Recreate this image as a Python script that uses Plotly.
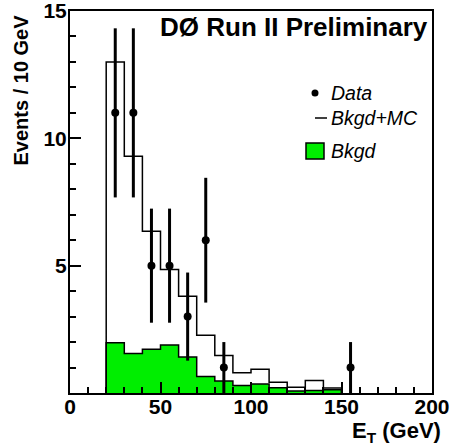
import plotly.graph_objects as go

# ---- data ----
bin_lo = [20, 30, 40, 50, 60, 70, 80, 90, 100, 110, 120, 130, 140]
bin_width = 10
bkgd_mc = [13.0, 9.3, 6.35, 4.85, 3.8, 2.27, 1.47, 0.8, 0.93, 0.42, 0.23, 0.49, 0.2]
bkgd = [1.97, 1.55, 1.72, 1.88, 1.41, 0.65, 0.47, 0.29, 0.35, 0.21, 0.08, 0.1, 0.13]

data_x = [25, 35, 45, 55, 65, 75, 85, 155]
data_y = [11, 11, 5, 5, 3, 6, 1, 1]
data_err = [3.32, 3.32, 2.24, 2.24, 1.73, 2.45, 1.0, 1.0]

x_ticks = [0, 50, 100, 150, 200]
y_ticks = [5, 10, 15]

FONT = "Liberation Sans"


def step(lo, vals, w):
    xs = [lo[0]] + list(lo) + [lo[-1] + w, lo[-1] + w]
    ys = [0] + list(vals) + [vals[-1], 0]
    return xs, ys


fig = go.Figure()

bx, by = step(bin_lo, bkgd, bin_width)
fig.add_trace(go.Scatter(x=bx, y=by, mode="lines", line=dict(shape="hv", color="black", width=1.5),
                         fill="tozeroy", fillcolor="#00ee00", showlegend=False, hoverinfo="skip"))

mx, my = step(bin_lo, bkgd_mc, bin_width)
fig.add_trace(go.Scatter(x=mx, y=my, mode="lines", line=dict(shape="hv", color="black", width=1.5),
                         showlegend=False, hoverinfo="skip"))

fig.add_trace(go.Scatter(x=data_x, y=data_y, mode="markers",
                         marker=dict(color="black", size=8),
                         error_y=dict(type="data", array=data_err, visible=True, color="black",
                                      thickness=3, width=0),
                         showlegend=False))

W, H = 453, 448
L, R, T, B = 70, 21, 11, 55
pw, ph = W - L - R, H - T - B


def px(x):
    return (x - L) / pw


def py(y):
    return (H - B - y) / ph


tickfont = dict(family=FONT, size=21, color="black", weight=700)

fig.update_layout(
    width=W, height=H,
    margin=dict(l=L, r=R, t=T, b=B, pad=0, autoexpand=False),
    paper_bgcolor="white", plot_bgcolor="white",
    showlegend=False,
    xaxis=dict(range=[0, 200], tickvals=x_ticks, ticktext=["<b>%d</b>" % v for v in x_ticks],
               showgrid=False, zeroline=False, automargin=False,
               showline=True, linecolor="black", linewidth=2, mirror=True,
               ticks="inside", ticklen=11, tickwidth=1.5, tickcolor="black",
               ticklabeloverflow="allow", ticklabelstandoff=-6,
               minor=dict(tickmode="linear", tick0=0, dtick=10, ticks="inside", ticklen=6,
                          tickwidth=1.5, tickcolor="black", showgrid=False),
               tickfont=tickfont),
    yaxis=dict(range=[0, 15], tickvals=y_ticks, ticktext=["<b>%d</b>" % v for v in y_ticks],
               showgrid=False, zeroline=False, automargin=False,
               showline=True, linecolor="black", linewidth=2, mirror=True,
               ticks="inside", ticklen=11, tickwidth=1.5, tickcolor="black",
               ticklabeloverflow="allow", ticklabelstandoff=-3,
               minor=dict(tickmode="linear", tick0=0, dtick=1, ticks="inside", ticklen=6,
                          tickwidth=1.5, tickcolor="black", showgrid=False),
               tickfont=tickfont),
)

annotations = [
    dict(text="<b>DØ Run II Preliminary</b>", x=px(158), y=py(27), xanchor="left", yanchor="middle",
         font=dict(family=FONT, size=26, color="black")),
    dict(text="<b>Events / 10 GeV</b>", x=px(21), y=py(13), xanchor="center", yanchor="top", textangle=-90,
         font=dict(family=FONT, size=20, color="black")),
    dict(text="<b>E<sub>T</sub> (GeV)</b>", x=px(443), y=py(432), xanchor="right", yanchor="middle",
         font=dict(family=FONT, size=22, color="black")),
]
legend_items = [("Data", 93), ("Bkgd+MC", 118), ("Bkgd", 151)]
for text, yy in legend_items:
    annotations.append(dict(text="<i>" + text + "</i>", x=px(329), y=py(yy), xanchor="left", yanchor="middle",
                            font=dict(family=FONT, size=19.5, color="black")))
for a in annotations:
    a.update(xref="paper", yref="paper", showarrow=False)
fig.update_layout(annotations=annotations)

shapes = [
    dict(type="circle", xref="paper", yref="paper", xsizemode="pixel", ysizemode="pixel",
         xanchor=px(315), yanchor=py(93), x0=-3.5, x1=3.5, y0=-3.5, y1=3.5,
         fillcolor="black", line=dict(color="black", width=0)),
    dict(type="line", xref="paper", yref="paper", x0=px(315), x1=px(327), y0=py(118), y1=py(118),
         line=dict(color="black", width=1.5)),
    dict(type="rect", xref="paper", yref="paper", x0=px(306), x1=px(324), y0=py(159), y1=py(143),
         fillcolor="#00ee00", line=dict(color="black", width=1.5)),
]
fig.update_layout(shapes=shapes)

fig.write_html("out.html", config={"displayModeBar": False},
               post_script="document.body.style.margin='0';document.body.style.padding='0';"
                           "document.body.style.overflow='hidden';")
